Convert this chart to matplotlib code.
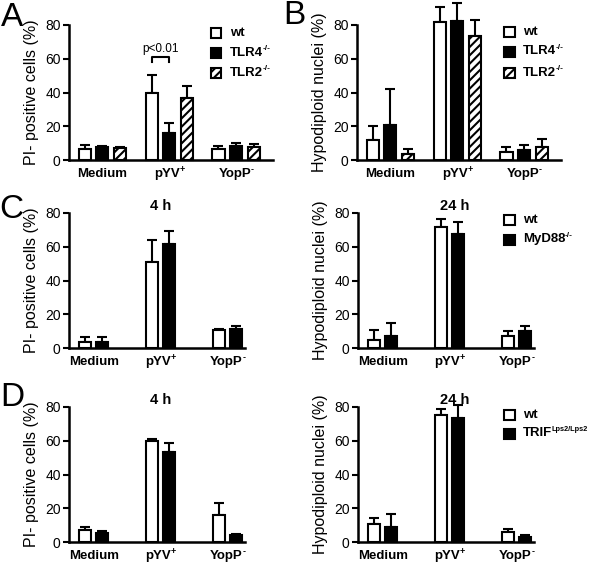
import matplotlib
matplotlib.use("Agg")
import matplotlib.pyplot as plt
from matplotlib.patches import Rectangle

plt.rcParams['font.family'] = ['Liberation Sans', 'DejaVu Sans']
plt.rcParams['hatch.linewidth'] = 1.5

HY = '\u2010'  # hyphen used in superscripts
categories = ['Medium', 'pYV', 'YopP']
category_sups = ['', '+', HY]
yticks = [0, 20, 40, 60, 80]

# Panel A (PI-positive cells)
A_wt = [6.5, 39.5, 6.5];   A_wt_err = [2.3, 11.0, 1.7]
A_tlr4 = [7.8, 15.8, 8.3]; A_tlr4_err = [0.4, 6.0, 1.5]
A_tlr2 = [7.2, 37.0, 7.8]; A_tlr2_err = [0.3, 6.8, 1.6]
# Panel B (hypodiploid nuclei)
B_wt = [12.0, 81.5, 4.8];  B_wt_err = [8.0, 9.3, 2.7]
B_tlr4 = [20.8, 82.5, 6.2]; B_tlr4_err = [21.2, 10.5, 2.5]
B_tlr2 = [3.8, 73.2, 7.5]; B_tlr2_err = [2.6, 10.0, 4.8]
# Panel C left (4 h)
C_wt = [3.6, 51.0, 10.8];  C_wt_err = [3.2, 13.0, 0.6]
C_myd = [3.6, 61.5, 11.0]; C_myd_err = [2.7, 7.6, 2.0]
# Panel C right (24 h)
Cr_wt = [5.0, 72.0, 7.0];  Cr_wt_err = [5.8, 4.2, 2.8]
Cr_myd = [7.4, 67.3, 10.3]; Cr_myd_err = [7.7, 7.6, 2.9]
# Panel D left (4 h)
D_wt = [7.0, 59.8, 16.2];  D_wt_err = [2.0, 1.0, 7.0]
D_trif = [5.6, 53.3, 4.0]; D_trif_err = [1.1, 5.3, 1.0]
# Panel D right (24 h)
Dr_wt = [10.5, 75.0, 6.2]; Dr_wt_err = [4.0, 4.0, 1.6]
Dr_trif = [9.0, 73.5, 2.8]; Dr_trif_err = [7.6, 7.6, 1.6]

W, H = 592, 563
fig = plt.figure(figsize=(W / 100, H / 100), dpi=100)
renderer = fig.canvas.get_renderer()


def rect(x0, y0, x1, y1):
    return [x0 / W, 1 - y1 / H, (x1 - x0) / W, (y1 - y0) / H]


styles = {
    'wt': dict(facecolor='white', hatch=None),
    'ko': dict(facecolor='black', hatch=None),
    'hatch': dict(facecolor='white', hatch='////'),
}

LW = 1.5


def sup_text(x, y, main, sup, size, sup_size, ha='left'):
    """Bold text with a small raised superscript; x, y in figure pixels (top-left origin)."""
    t = fig.text(x / W, 1 - y / H, main, ha='left', va='center',
                 fontweight='bold', fontsize=size)
    bb = t.get_window_extent(renderer)
    s = None
    if sup:
        s = fig.text((bb.x1 - 0.5) / W, 1 - (y - size * 0.45) / H, sup,
                     ha='left', va='center', fontweight='bold', fontsize=sup_size)
    if ha == 'center':
        total = bb.width
        if s is not None:
            total = s.get_window_extent(renderer).x1 - bb.x0
        shift = total / 2
        t.set_x((x - shift) / W)
        if s is not None:
            s.set_x(s.get_position()[0] - shift / W)
    return t


def panel(pos, xlim, series, ylabel):
    ax = fig.add_axes(pos)
    n = len(series)
    bw = 0.18
    offs = [-0.265, 0.0, 0.265] if n == 3 else [-0.127, 0.127]
    x = list(range(len(categories)))
    for (vals, errs, st), off in zip(series, offs):
        xs = [i + off for i in x]
        s = styles[st]
        ax.bar(xs, vals, width=bw, color=s['facecolor'], edgecolor='black',
               hatch=s['hatch'], linewidth=LW, clip_on=False, zorder=2)
        eb = ax.errorbar(xs, vals, yerr=[[0] * len(vals), errs], fmt='none',
                         ecolor='black', elinewidth=LW, capsize=3.5, capthick=LW,
                         zorder=1)
        for c in eb.lines[1] + eb.lines[2]:
            c.set_clip_on(False)
    ax.set_xlim(*xlim)
    ax.set_ylim(0, 80)
    ax.set_yticks(yticks)
    ax.set_xticks(x)
    ax.set_xticklabels([])
    ax.tick_params(axis='x', length=0)
    ax.tick_params(axis='y', length=4, width=LW, labelsize=10, pad=2)
    for sp in ['top', 'right']:
        ax.spines[sp].set_visible(False)
    for sp in ['left', 'bottom']:
        ax.spines[sp].set_linewidth(LW + 0.3)
    ax.set_ylabel(ylabel, fontsize=11.5, labelpad=4)
    # category labels with small superscripts
    for i, (c, sp) in enumerate(zip(categories, category_sups)):
        px, py = ax.transData.transform((i, 0))
        sup_text(px, H - py + 14, c, sp, 9.5, 6.5, ha='center')
    return ax


A = panel(rect(69, 25, 273, 160), (-0.5, 2.55),
          [(A_wt, A_wt_err, 'wt'), (A_tlr4, A_tlr4_err, 'ko'), (A_tlr2, A_tlr2_err, 'hatch')],
          'PI- positive cells (%)')
B = panel(rect(357, 25, 561, 160), (-0.5, 2.55),
          [(B_wt, B_wt_err, 'wt'), (B_tlr4, B_tlr4_err, 'ko'), (B_tlr2, B_tlr2_err, 'hatch')],
          'Hypodiploid nuclei (%)')
CL = panel(rect(69, 213, 244.5, 348), (-0.37, 2.25),
           [(C_wt, C_wt_err, 'wt'), (C_myd, C_myd_err, 'ko')],
           'PI- positive cells (%)')
CR = panel(rect(358, 213, 533.5, 348), (-0.37, 2.25),
           [(Cr_wt, Cr_wt_err, 'wt'), (Cr_myd, Cr_myd_err, 'ko')],
           'Hypodiploid nuclei (%)')
DL = panel(rect(69, 407, 244.5, 542), (-0.37, 2.25),
           [(D_wt, D_wt_err, 'wt'), (D_trif, D_trif_err, 'ko')],
           'PI- positive cells (%)')
DR = panel(rect(358, 407, 533.5, 542), (-0.37, 2.25),
           [(Dr_wt, Dr_wt_err, 'wt'), (Dr_trif, Dr_trif_err, 'ko')],
           'Hypodiploid nuclei (%)')

# time titles
for ax, t in [(CL, '4 h'), (DL, '4 h'), (CR, '24 h'), (DR, '24 h')]:
    ax.text(1.0 if t == '4 h' else 1.08, 84, t, ha='center', va='center',
            fontweight='bold', fontsize=10.5)

# significance bracket in A (pYV wt vs TLR4)
A.plot([1 - 0.265, 1 - 0.265, 1.0, 1.0], [58.3, 61, 61, 58.3], color='black', lw=LW,
       clip_on=False)
A.text(1 - 0.13, 65.5, 'p<0.01', ha='center', va='center', fontsize=8.5)


def legend(x0, x_text, rows, sup_size=6):
    for yc, label, sup, st in rows:
        s = styles[st]
        r = Rectangle((x0 / W, 1 - (yc + 5) / H), 10.5 / W, 10 / H,
                      transform=fig.transFigure, facecolor=s['facecolor'],
                      edgecolor='black', hatch=s['hatch'], linewidth=LW)
        fig.add_artist(r)
        sup_text(x_text, yc, label, sup, 9.5, sup_size)


KO = HY + '/' + HY
legend(211, 230, [(33, 'wt', '', 'wt'), (52.5, 'TLR4', KO, 'ko'),
                  (72.5, 'TLR2', KO, 'hatch')])
legend(504, 523, [(32, 'wt', '', 'wt'), (51.5, 'TLR4', KO, 'ko'),
                  (73, 'TLR2', KO, 'hatch')])
legend(504, 523, [(220, 'wt', '', 'wt'), (239.5, 'MyD88', KO, 'ko')])
legend(504, 523, [(415, 'wt', '', 'wt'), (433.5, 'TRIF', 'Lps2/Lps2', 'ko')],
       sup_size=5.3)

# panel letters
for lbl, x, y in [('A', 12, 17), ('B', 294, 15), ('C', 11, 209), ('D', 12, 398)]:
    fig.text(x / W, 1 - y / H, lbl, ha='center', va='center', fontsize=24)

fig.savefig('out.png', dpi=100)
